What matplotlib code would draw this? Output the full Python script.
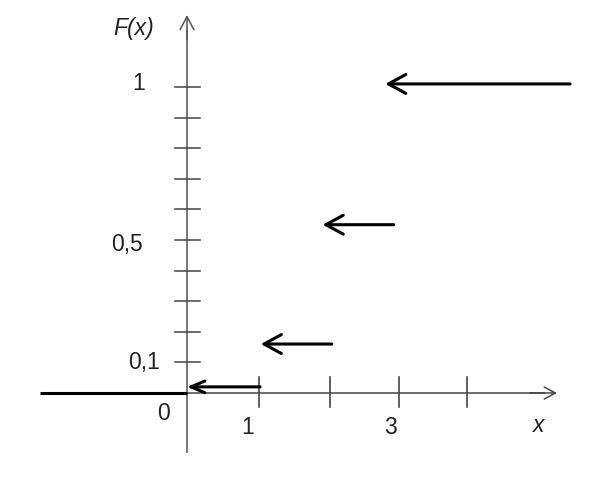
import matplotlib
matplotlib.use("Agg")
import matplotlib.pyplot as plt

# ---- data ----
step_left = [0.0, 1.05, 1.93, 2.82]      # left end (arrow tip) of each step
step_right = [1.04, 2.06, 2.94, 5.45]    # right end (arrow tail) of each step
step_F = [0.02, 0.16, 0.55, 1.01]        # F(x) on each step
zero_left = -2.09                         # F(x)=0 for x<0 segment start
x_ticks = [1.03, 2.04, 3.01, 3.98]
x_tick_labels = {1: "1", 3: "3"}
y_ticks = [0.1, 0.2, 0.3, 0.4, 0.5, 0.6, 0.7, 0.8, 0.9, 1.0]
y_tick_labels = {0.1: "0,1", 0.5: "0,5", 1.0: "1"}

plt.rcParams['font.family'] = ['Liberation Sans', 'DejaVu Sans']

W, H = 600, 480
X0, Y0 = 187.0, 393.0   # pixel position of the origin
KX, KY = 70.3, 306.0    # pixels per unit

fig = plt.figure(figsize=(6, 4.8), dpi=100)
ax = fig.add_axes([0, 0, 1, 1])
ax.set_xlim(-X0 / KX, (W - X0) / KX)
ax.set_ylim((Y0 - H) / KY, Y0 / KY)
ax.axis('off')

def X(px):
    return (px - X0) / KX

def Y(py):
    return (Y0 - py) / KY

axis_col = '#555555'
tick_col = '#444444'

# axes with open arrowheads
ax.plot([0, 0], [Y(453), Y(30)], color=axis_col, lw=1.1, solid_capstyle='butt')
ax.annotate('', xy=(0, Y(15)), xytext=(0, Y(40)),
            arrowprops=dict(arrowstyle='->,head_length=0.94,head_width=0.5',
                            color=axis_col, lw=1.1, shrinkA=0, shrinkB=0,
                            mutation_scale=10))
ax.plot([0, X(545)], [0, 0], color=tick_col, lw=1.1, solid_capstyle='butt')
ax.annotate('', xy=(X(557), 0), xytext=(X(530), 0),
            arrowprops=dict(arrowstyle='->,head_length=0.8,head_width=0.43',
                            color=tick_col, lw=1.1, shrinkA=0, shrinkB=0,
                            mutation_scale=10))

# ticks
for t in x_ticks:
    ax.plot([t, t], [Y(377), Y(407)], color=tick_col, lw=1.2)
for t in y_ticks:
    ax.plot([X(175), X(200)], [t, t], color=tick_col, lw=1.1)

# F(x) = 0 for x < 0
ax.plot([zero_left, 0], [0, 0], color='black', lw=2.2, solid_capstyle='butt')

# steps drawn as arrows pointing left
for i, (a, b, f) in enumerate(zip(step_left, step_right, step_F)):
    hs = 'head_length=1.0,head_width=0.42' if i == 0 else 'head_length=1.25,head_width=0.68'
    ax.annotate('', xy=(a, f), xytext=(b, f),
                arrowprops=dict(arrowstyle='->,' + hs, color='black', lw=2.2,
                                shrinkA=0, shrinkB=0, mutation_scale=10))

fs = 16.5
# tick labels
ylab_pos = {0.1: (144, 363), 0.5: (127, 245), 1.0: (139, 84)}
for t, s in y_tick_labels.items():
    px, py = ylab_pos[t]
    ax.text(X(px), Y(py), s, fontsize=fs, ha='center', va='center', color='#222222')
xlab_pos = {1: (248, 427), 3: (390, 427)}
for t, s in x_tick_labels.items():
    px, py = xlab_pos[t]
    ax.text(X(px), Y(py), s, fontsize=fs, ha='center', va='center', color='#222222')
ax.text(X(163), Y(414), "0", fontsize=fs, ha='center', va='center', color='#222222')

# axis names
ax.text(X(134), Y(29), "F(x)", fontsize=fs, style='italic', ha='center', va='center', color='#222222')
ax.text(X(539), Y(425), "x", fontsize=fs, style='italic', ha='center', va='center', color='#222222')

fig.savefig('out.png', dpi=100, facecolor='white')
